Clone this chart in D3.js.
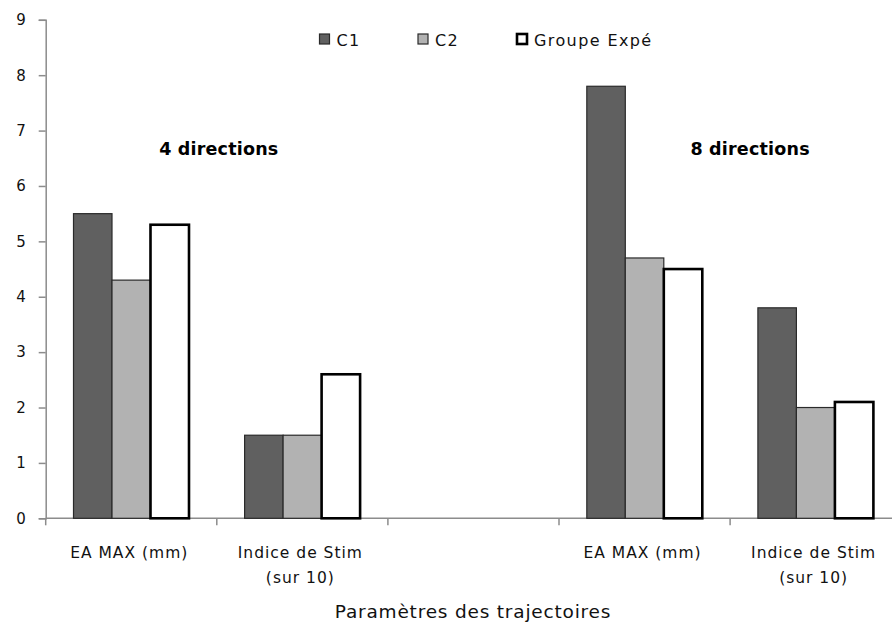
<!DOCTYPE html>
<html><head><meta charset="utf-8">
<script src="https://cdn.jsdelivr.net/npm/d3@7"></script>
<style>body{margin:0;background:#fff}svg{display:block}text{font-family:"DejaVu Sans", sans-serif}</style>
</head><body>
<script>
const categories = [["EA MAX (mm)"], ["Indice de Stim", "(sur 10)"], [], ["EA MAX (mm)"], ["Indice de Stim", "(sur 10)"]];
const seriesNames = ["C1", "C2", "Groupe Expé"];
const c1 = [5.5, 1.5, null, 7.8, 3.8];
const c2 = [4.3, 1.5, null, 4.7, 2.0];
const expe = [5.3, 2.6, null, 4.5, 2.1];
const yTicks = [0,1,2,3,4,5,6,7,8,9];
const groupLabels = [{text:"4 directions", cat:1}, {text:"8 directions", cat:4}];
const xTitle = "Paramètres des trajectoires";

const W = 892, H = 625;
const svg = d3.select("body").append("svg").attr("width", W).attr("height", H);
const y = d3.scaleLinear().domain([0, 9]).range([518.3, 19.8]);
const x = d3.scaleBand().domain(d3.range(categories.length)).range([45.7, 901.2]).paddingInner(0.325).paddingOuter(0.1625);
const xs = d3.scaleBand().domain(d3.range(3)).range([0, x.bandwidth()]);
const series = [c1, c2, expe];
const styles = [
  {fill:"#606060", stroke:"#2a2a2a", sw:1.2},
  {fill:"#b2b2b2", stroke:"#2a2a2a", sw:1.2},
  {fill:"#ffffff", stroke:"#000000", sw:2.6}
];

// x axis line first (bars sit on it)
const step = x.step();
const bounds = d3.range(categories.length).map(i => 45.7 + i*step);
const xg = svg.append("g");
xg.append("line").attr("x1", 45.7).attr("x2", W).attr("y1", y(0)).attr("y2", y(0))
  .attr("stroke", "#8c8c8c").attr("stroke-width", 1.5);
xg.selectAll("line.t").data(bounds).join("line").attr("class","t")
  .attr("x1", d=>d).attr("x2", d=>d).attr("y1", y(0)).attr("y2", y(0)+7)
  .attr("stroke", "#8c8c8c").attr("stroke-width", 1.5);

// bars
series.forEach((vals, si) => {
  svg.append("g").selectAll("rect").data(vals.map((v,i)=>({v,i})).filter(d=>d.v!=null))
    .join("rect")
    .attr("x", d => x(d.i) + xs(si))
    .attr("y", d => y(d.v))
    .attr("width", xs.bandwidth())
    .attr("height", d => y(0) - y(d.v))
    .attr("fill", styles[si].fill)
    .attr("stroke", styles[si].stroke)
    .attr("stroke-width", styles[si].sw);
});

// y axis
const yAxis = svg.append("g").attr("transform", "translate(45.7,0)")
  .call(d3.axisLeft(y).tickValues(yTicks).tickSize(7).tickPadding(13).tickFormat(d3.format("d")));
yAxis.select(".domain").attr("stroke", "#8c8c8c").attr("stroke-width", 1.5);
yAxis.selectAll(".tick line").attr("stroke", "#8c8c8c").attr("stroke-width", 1.5);
yAxis.selectAll(".tick text").attr("font-size", 15).attr("fill", "#111").attr("font-family", "DejaVu Sans");

categories.forEach((lines, i) => {
  const cx = x(i) + x.bandwidth()/2 - 2;
  lines.forEach((t, li) => {
    xg.append("text").attr("x", cx).attr("y", 558 + li*25).attr("text-anchor","middle")
      .attr("font-size", 15.5).attr("letter-spacing", 1).attr("fill", "#111").text(t);
  });
});
svg.append("text").attr("x", 473).attr("y", 618).attr("text-anchor", "middle")
  .attr("font-size", 18.5).attr("letter-spacing", 0.8).attr("fill", "#111").text(xTitle);

// group labels
groupLabels.forEach(g => {
  svg.append("text").attr("x", x(g.cat) - (x.step()-x.bandwidth())/2 + (g.cat===1 ? 2 : 20)).attr("y", 155)
    .attr("text-anchor", "middle").attr("font-size", 17.5).attr("letter-spacing", 0.2).attr("font-weight", "bold").attr("fill", "#000").text(g.text);
});

// legend
const legX = [319.5, 418, 517];
seriesNames.forEach((n, i) => {
  const g = svg.append("g");
  g.append("rect").attr("x", legX[i]).attr("y", 34).attr("width", 10).attr("height", 10)
    .attr("fill", styles[i].fill).attr("stroke", styles[i].stroke).attr("stroke-width", i===2?2.6:1.2);
  g.append("text").attr("x", legX[i] + 17).attr("y", 45.5).attr("font-size", 16).attr("letter-spacing", 1.4).attr("fill", "#111").text(n);
});
</script>
</body></html>
